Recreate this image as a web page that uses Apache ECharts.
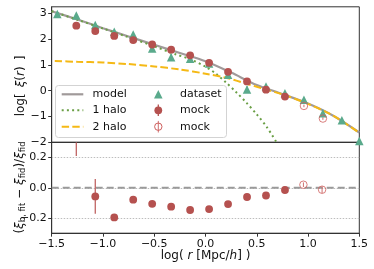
<!DOCTYPE html>
<html><head><meta charset="utf-8">
<script src="https://cdn.jsdelivr.net/npm/echarts@6/dist/echarts.min.js"></script>
<style>html,body{margin:0;padding:0;background:#fff}#c{width:374px;height:269px}</style>
</head><body><div id="c"></div>
<script>
// ---- data ----
const binX = [-1.445, -1.26, -1.075, -0.89, -0.705, -0.52, -0.335, -0.15, 0.035, 0.22, 0.405, 0.59, 0.775, 0.96, 1.145, 1.33, 1.5];
const datasetY   = [2.97, 2.91, 2.54, 2.28, 2.18, 1.63, 1.30, 1.24, 1.05, 0.62, 0.05, 0.16, -0.10, -0.35, -0.87, -1.15, -1.95];
const datasetErr = [0.03, 0.03, 0.03, 0.03, 0.03, 0.05, 0.12, 0.04, 0.04, 0.05, 0.12, 0.04, 0.04, 0.04, 0.04, 0.04, 0.04];
const mockX    = [-1.26, -1.075, -0.89, -0.705, -0.52, -0.335, -0.15, 0.035, 0.22, 0.405, 0.59, 0.775];
const mockY    = [2.52, 2.31, 2.12, 1.96, 1.79, 1.59, 1.37, 1.08, 0.73, 0.36, 0.04, -0.23];
const mockErr  = [0.03, 0.03, 0.03, 0.03, 0.03, 0.03, 0.03, 0.03, 0.03, 0.03, 0.03, 0.03];
const mockOpenX   = [0.96, 1.145];
const mockOpenY   = [-0.59, -1.08];
const mockOpenErr = [0.05, 0.05];
const modelX = [-1.5, -1.25, -1.0, -0.75, -0.5, -0.25, 0.0, 0.25, 0.5, 0.75, 1.0, 1.25, 1.5];
const modelY = [3.08, 2.76, 2.42, 2.10, 1.78, 1.46, 1.14, 0.70, 0.22, -0.13, -0.50, -0.98, -1.62];
const halo1X = [-1.5, -1.25, -1.0, -0.75, -0.5, -0.3, -0.15, 0.0, 0.1, 0.2, 0.3, 0.4, 0.5, 0.6, 0.7];
const halo1Y = [3.08, 2.75, 2.41, 2.07, 1.72, 1.42, 1.22, 0.93, 0.66, 0.32, -0.06, -0.47, -0.92, -1.42, -2.05];
const halo2X = [-1.47, -1.25, -1.0, -0.75, -0.5, -0.25, 0.0, 0.2, 0.4, 0.6, 0.75, 1.0, 1.25, 1.5];
const halo2Y = [1.15, 1.12, 1.09, 1.03, 0.94, 0.82, 0.66, 0.50, 0.27, 0.03, -0.14, -0.51, -0.98, -1.63];
const residX    = [-1.26, -1.075, -0.89, -0.705, -0.52, -0.335, -0.15, 0.035, 0.22, 0.405, 0.59, 0.775];
const residY    = [0.45, -0.057, -0.196, -0.079, -0.106, -0.125, -0.147, -0.141, -0.108, -0.061, -0.051, -0.015];
const residErr  = [0.24, 0.115, 0.022, 0.02, 0.015, 0.015, 0.012, 0.01, 0.01, 0.01, 0.01, 0.01];
const residOpenX   = [0.955, 1.137];
const residOpenY   = [0.020, -0.013];
const residOpenErr = [0.015, 0.022];
const xTicks = [-1.5, -1.0, -0.5, 0.0, 0.5, 1.0, 1.5];
const yTopTicks = [-2, -1, 0, 1, 2, 3];
const yBotTicks = [-0.2, 0.0, 0.2];

const RED = '#b5514f', GREEN_T = '#5aaa8c', GREEN_D = '#6a9f45', YEL = '#f5b915', GRAY = '#a09a9a';
const FONT = 'DejaVu Sans';
const zip = (a, b, c) => a.map((v, i) => c ? [v, b[i], c[i]] : [v, b[i]]);
const fmt = (v, d) => (v < -1e-9 ? '\u2212' : '') + Math.abs(v).toFixed(d);

function errItem(color, width) {
  return function (params, api) {
    const x = api.value(0), y = api.value(1), e = api.value(2);
    const a = api.coord([x, y - e]), b = api.coord([x, y + e]);
    const cs = params.coordSys;
    const top = cs.y, bot = cs.y + cs.height;
    const y1 = Math.min(Math.max(a[1], top), bot), y2 = Math.min(Math.max(b[1], top), bot);
    if (Math.abs(y1 - y2) < 0.1) return null;
    return { type: 'line', shape: { x1: a[0], y1: y1, x2: b[0], y2: y2 }, style: { stroke: color, lineWidth: width } };
  };
}

const axisLineStyle = { color: '#333', width: 1 };
const tickStyle = { show: true, length: 3.5, lineStyle: { color: '#333', width: 1 } };
const labelStyle = { color: '#111', fontFamily: FONT, fontSize: 11 };

const L = 51.7, R = 374 - 359.3;
const chart = echarts.init(document.getElementById('c'), null, { renderer: 'canvas' });
chart.setOption({
  animation: false,
  backgroundColor: '#fff',
  grid: [
    { left: L, right: R, top: 6.8, height: 135.5, show: true, borderColor: '#333', borderWidth: 1, backgroundColor: 'transparent' },
    { left: L, right: R, top: 142.3, height: 90.9, show: true, borderColor: '#333', borderWidth: 1, backgroundColor: 'transparent' }
  ],
  xAxis: [
    { gridIndex: 0, type: 'value', min: -1.5, max: 1.5, interval: 0.5, axisLine: { onZero: false, lineStyle: axisLineStyle }, axisTick: { show: false }, axisLabel: { show: false }, splitLine: { show: false } },
    { gridIndex: 1, type: 'value', min: -1.5, max: 1.5, interval: 0.5, axisLine: { onZero: false, lineStyle: axisLineStyle },
      axisTick: Object.assign({ customValues: xTicks }, tickStyle),
      axisLabel: Object.assign({ customValues: xTicks, margin: 5, formatter: v => fmt(v, 1) }, labelStyle),
      splitLine: { show: false },
      name: '{n|log( }{i|r}{n| [Mpc/}{i|h}{n|] )}', nameLocation: 'middle', nameGap: 16,
      nameTextStyle: { fontFamily: FONT, fontSize: 12, color: '#111', rich: { n: { fontFamily: FONT, fontSize: 12 }, i: { fontFamily: FONT, fontSize: 12, fontStyle: 'italic' } } } }
  ],
  yAxis: [
    { gridIndex: 0, type: 'value', min: -2, max: 3.25, interval: 1, axisLine: { show: true, onZero: false, lineStyle: axisLineStyle },
      axisTick: Object.assign({ customValues: yTopTicks }, tickStyle),
      axisLabel: Object.assign({ customValues: yTopTicks, margin: 5, formatter: v => fmt(v, 0) }, labelStyle),
      splitLine: { show: false } },
    { gridIndex: 1, type: 'value', min: -0.3, max: 0.3, interval: 0.1, axisLine: { show: true, onZero: false, lineStyle: axisLineStyle },
      axisTick: Object.assign({ customValues: yBotTicks }, tickStyle),
      axisLabel: Object.assign({ customValues: yBotTicks, margin: 5, formatter: v => fmt(v, 1) }, labelStyle),
      splitLine: { show: true, lineStyle: { color: '#bdbdbd', width: 1, type: [1.5, 1.5] } } }
  ],
  series: [
    { name: 'model', type: 'line', xAxisIndex: 0, yAxisIndex: 0, data: zip(modelX, modelY), smooth: 0.3, showSymbol: false, symbol: 'none',
      lineStyle: { color: GRAY, width: 2.2 }, z: 2 },
    { name: '1 halo', type: 'line', xAxisIndex: 0, yAxisIndex: 0, data: zip(halo1X, halo1Y), smooth: 0.3, showSymbol: false, symbol: 'none',
      lineStyle: { color: GREEN_D, width: 2, type: [2, 3.2] }, z: 3 },
    { name: '2 halo', type: 'line', xAxisIndex: 0, yAxisIndex: 0, data: zip(halo2X, halo2Y), smooth: 0.3, showSymbol: false, symbol: 'none',
      lineStyle: { color: YEL, width: 2, type: [7.4, 3.2] }, z: 3 },
    { name: 'dataset err', type: 'custom', xAxisIndex: 0, yAxisIndex: 0, data: zip(binX, datasetY, datasetErr), encode: { x: 0, y: 1 },
      renderItem: errItem(GREEN_T, 1.3), z: 4, clip: true },
    { name: 'dataset', type: 'scatter', xAxisIndex: 0, yAxisIndex: 0, data: zip(binX, datasetY), symbol: 'triangle', symbolSize: 8.5,
      itemStyle: { color: GREEN_T, opacity: 1 }, z: 5, clip: true },
    { name: 'mock err', type: 'custom', xAxisIndex: 0, yAxisIndex: 0, data: zip(mockX, mockY, mockErr), encode: { x: 0, y: 1 },
      renderItem: errItem(RED, 1.3), z: 6, clip: true },
    { name: 'mock', type: 'scatter', xAxisIndex: 0, yAxisIndex: 0, data: zip(mockX, mockY), symbol: 'circle', symbolSize: 7.8,
      itemStyle: { color: RED, opacity: 1 }, z: 7, clip: true },
    { name: 'mock open err', type: 'custom', xAxisIndex: 0, yAxisIndex: 0, data: zip(mockOpenX, mockOpenY, mockOpenErr), encode: { x: 0, y: 1 },
      renderItem: errItem('#cf6f6e', 1), z: 6, clip: true },
    { name: 'mock open', type: 'scatter', xAxisIndex: 0, yAxisIndex: 0, data: zip(mockOpenX, mockOpenY), symbol: 'circle', symbolSize: 7.5,
      itemStyle: { color: 'rgba(0,0,0,0)', borderColor: '#cf5f5e', borderWidth: 1 }, z: 7, clip: true },

    { name: 'zero', type: 'line', xAxisIndex: 1, yAxisIndex: 1, data: [[-1.5, 0], [1.5, 0]], showSymbol: false, symbol: 'none',
      lineStyle: { color: '#9a9a9a', width: 2, type: [7, 4] }, z: 2 },
    { name: 'resid err', type: 'custom', xAxisIndex: 1, yAxisIndex: 1, data: zip(residX, residY, residErr), encode: { x: 0, y: 1 },
      renderItem: errItem('#c06463', 1.3), z: 6, clip: true },
    { name: 'resid', type: 'scatter', xAxisIndex: 1, yAxisIndex: 1, data: zip(residX, residY), symbol: 'circle', symbolSize: 7.8,
      itemStyle: { color: RED, opacity: 1 }, z: 7, clip: true },
    { name: 'resid open err', type: 'custom', xAxisIndex: 1, yAxisIndex: 1, data: zip(residOpenX, residOpenY, residOpenErr), encode: { x: 0, y: 1 },
      renderItem: errItem('#cf6f6e', 1), z: 6, clip: true },
    { name: 'resid open', type: 'scatter', xAxisIndex: 1, yAxisIndex: 1, data: zip(residOpenX, residOpenY), symbol: 'circle', symbolSize: 7.5,
      itemStyle: { color: 'rgba(0,0,0,0)', borderColor: '#cf5f5e', borderWidth: 1 }, z: 7, clip: true }
  ],
  graphic: [
    { type: 'text', x: 21, y: 86, rotation: Math.PI / 2, z: 50,
      style: { text: '{n|log[}{sp|}{i|ξ}{n|(}{i|r}{n|)}{sp|}{n|]}', align: 'center', verticalAlign: 'middle', fill: '#111',
        rich: { n: { fontFamily: FONT, fontSize: 12 }, i: { fontFamily: FONT, fontSize: 12, fontStyle: 'italic' }, sp: { width: 6 } } } },
    { type: 'text', x: 20, y: 187.5, rotation: Math.PI / 2, z: 50,
      style: { text: '{n|(}{i|ξ}{s|b, fit}{n| \u2212 }{i|ξ}{s|fid}{n|)/}{i|ξ}{s|fid}', align: 'center', verticalAlign: 'middle', fill: '#111',
        rich: { n: { fontFamily: FONT, fontSize: 12, lineHeight: 15 }, i: { fontFamily: FONT, fontSize: 12, fontStyle: 'italic', lineHeight: 15 },
                s: { fontFamily: FONT, fontSize: 8.5, lineHeight: 8, verticalAlign: 'bottom' } } } },
    // legend
    { type: 'rect', z: 60, shape: { x: 55.5, y: 85.5, width: 171, height: 52, r: 3 }, style: { fill: 'rgba(255,255,255,0.85)', stroke: '#d3d3d3', lineWidth: 1 } },
    { type: 'line', z: 61, shape: { x1: 61.7, y1: 94.3, x2: 83.3, y2: 94.3 }, style: { stroke: GRAY, lineWidth: 2.2 } },
    { type: 'line', z: 61, shape: { x1: 61.7, y1: 110.3, x2: 83.3, y2: 110.3 }, style: { stroke: GREEN_D, lineWidth: 2, lineDash: [2, 3.2] } },
    { type: 'line', z: 61, shape: { x1: 61.7, y1: 126.7, x2: 83.3, y2: 126.7 }, style: { stroke: YEL, lineWidth: 2, lineDash: [7.4, 3.2] } },
    { type: 'text', z: 61, x: 92.5, y: 94.3, style: { text: 'model', font: '11px "DejaVu Sans"', fill: '#111', verticalAlign: 'middle' } },
    { type: 'text', z: 61, x: 92.5, y: 110.3, style: { text: '1 halo', font: '11px "DejaVu Sans"', fill: '#111', verticalAlign: 'middle' } },
    { type: 'text', z: 61, x: 92.5, y: 126.7, style: { text: '2 halo', font: '11px "DejaVu Sans"', fill: '#111', verticalAlign: 'middle' } },
    { type: 'polygon', z: 61, shape: { points: [[158.3, 90], [154, 98.5], [162.6, 98.5]] }, style: { fill: GREEN_T } },
    { type: 'line', z: 61, shape: { x1: 158.3, y1: 104.5, x2: 158.3, y2: 116.1 }, style: { stroke: RED, lineWidth: 1.3 } },
    { type: 'circle', z: 62, shape: { cx: 158.3, cy: 110.3, r: 3.9 }, style: { fill: RED } },
    { type: 'line', z: 61, shape: { x1: 158.3, y1: 120.9, x2: 158.3, y2: 132.5 }, style: { stroke: '#cf6f6e', lineWidth: 1 } },
    { type: 'circle', z: 62, shape: { cx: 158.3, cy: 126.7, r: 3.7 }, style: { fill: 'none', stroke: '#cf5f5e', lineWidth: 1 } },
    { type: 'text', z: 61, x: 180, y: 94.3, style: { text: 'dataset', font: '11px "DejaVu Sans"', fill: '#111', verticalAlign: 'middle' } },
    { type: 'text', z: 61, x: 180, y: 110.3, style: { text: 'mock', font: '11px "DejaVu Sans"', fill: '#111', verticalAlign: 'middle' } },
    { type: 'text', z: 61, x: 180, y: 126.7, style: { text: 'mock', font: '11px "DejaVu Sans"', fill: '#111', verticalAlign: 'middle' } }
  ]
});
</script>
</body></html>
